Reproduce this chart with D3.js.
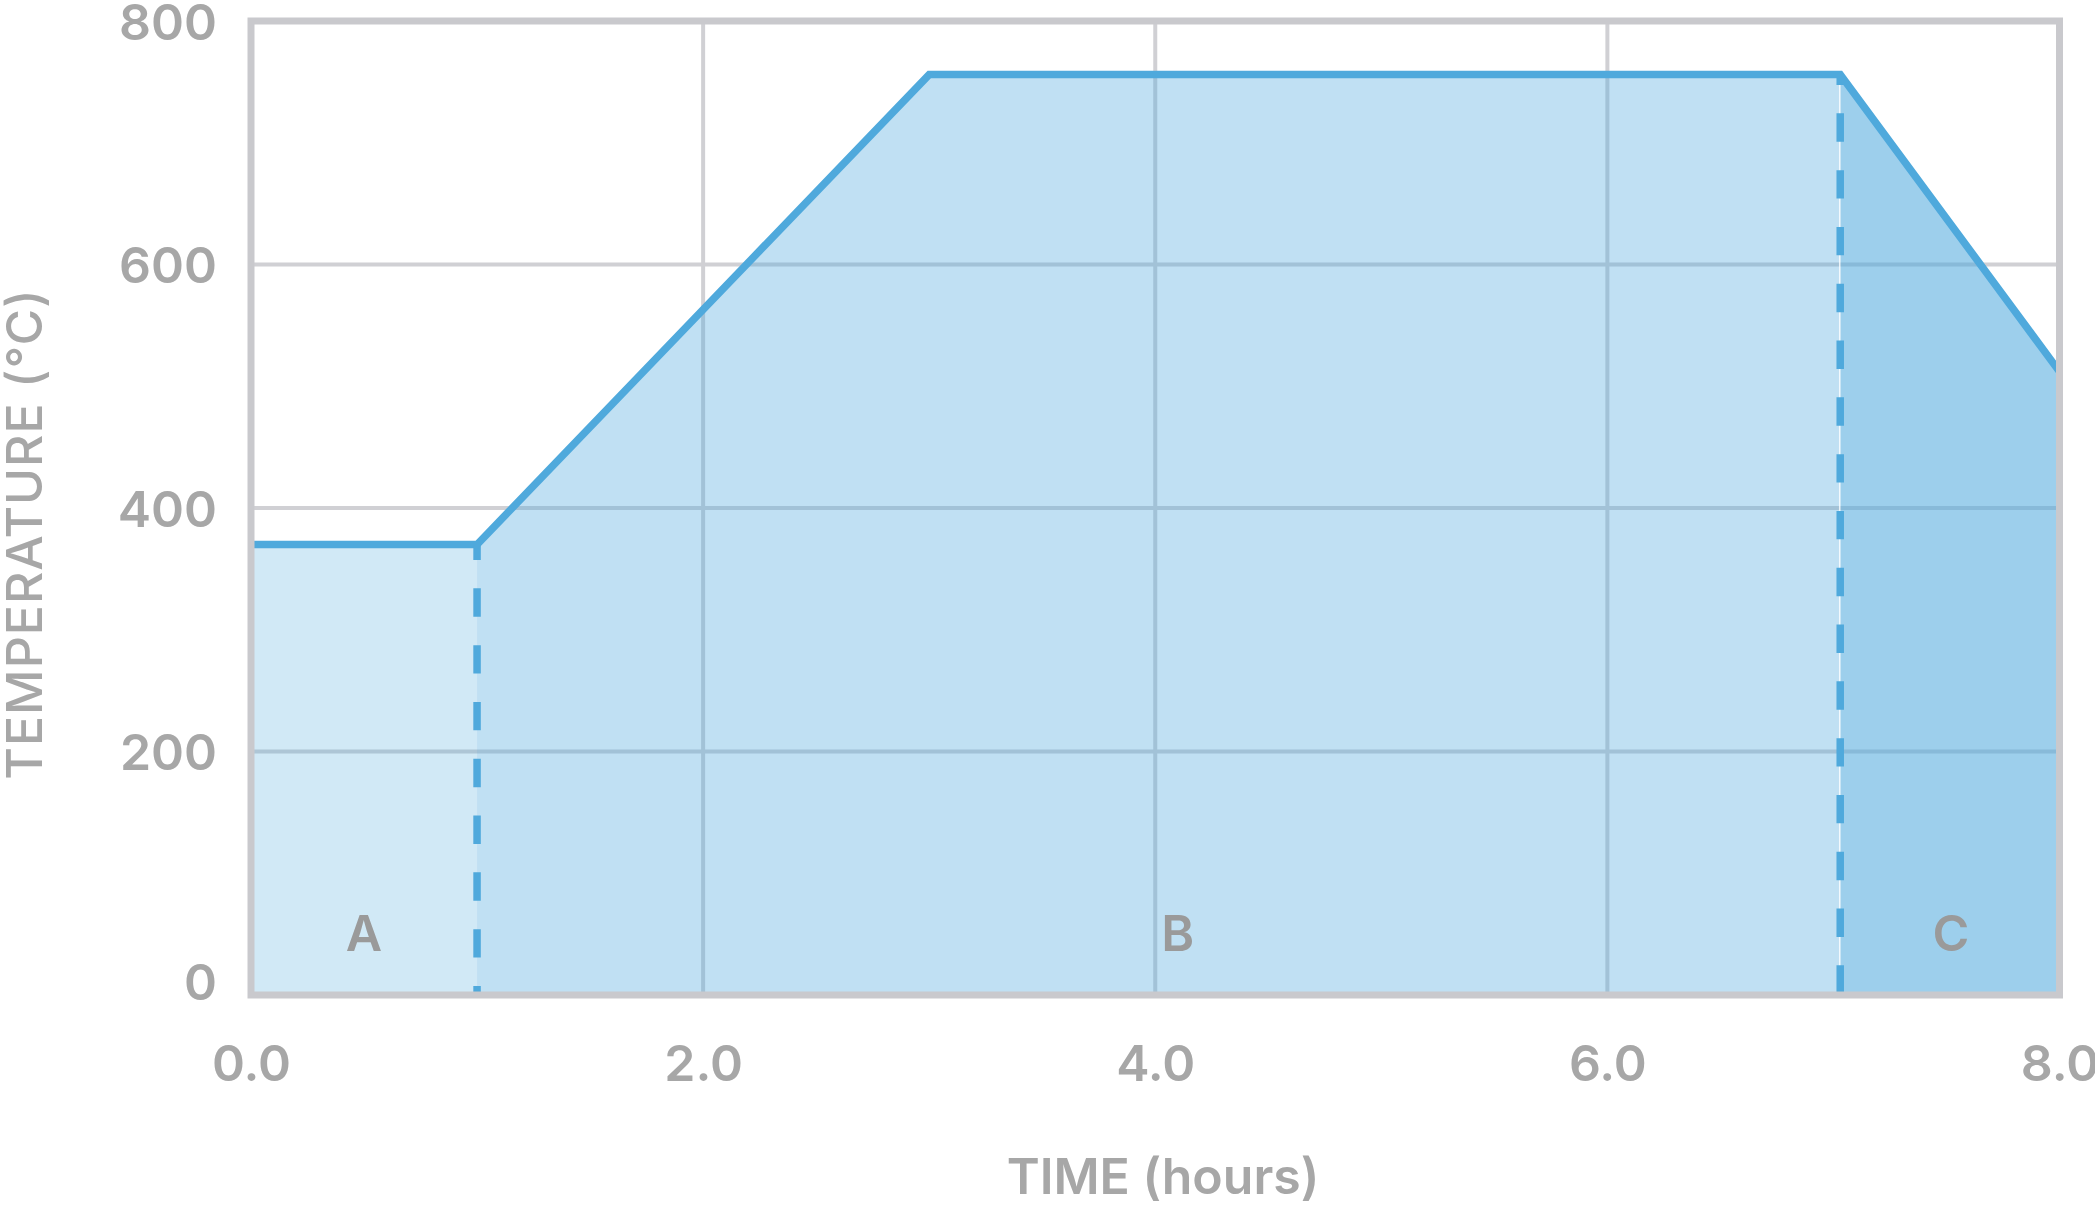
<!DOCTYPE html>
<html>
<head>
<meta charset="utf-8">
<script src="https://cdn.jsdelivr.net/npm/d3@7"></script>
<style>
  html, body { margin: 0; padding: 0; background: #ffffff; overflow: hidden; }
  svg { display: block; }
  text { font-family: Inter, "Open Sans", sans-serif; }
</style>
</head>
<body>
<svg id="chart" width="2095" height="1206"></svg>
<script>
// ---- data ----
const timeHours = [0, 1.0, 3.0, 7.03, 8.0];
const temperatureC = [370, 370, 756, 756, 512];

const zoneLabels = ["A", "B", "C"];
const zoneStart = [0, 1.0, 7.03];
const zoneEnd = [1.0, 7.03, 8.0];
const zoneLabelX = [0.5, 4.1, 7.52];
const zoneLabelY = [36, 36, 36];

const xTickValues = [0, 2, 4, 6, 8];
const yTickValues = [0, 200, 400, 600, 800];
const xGridValues = [2, 4, 6];
const yGridValues = [200, 400, 600];
const boundaryTimes = [1.0, 7.03];

const xTitle = "TIME (hours)";
const yTitle = "TEMPERATURE (°C)";

// ---- layout / style ----
const W = 2095, H = 1206;
const plot = { left: 251, right: 2059.5, top: 21, bottom: 995 };
const lineColor = "#4fa9dc";
const zoneOpacity = [0.26, 0.355, 0.555];
const frameColor = "#c9c9cd";
const gridColor = "#d0d0d4";
const textColor = "#a7a7a7";

const svg = d3.select("#chart");

const x = d3.scaleLinear().domain([0, 8]).range([plot.left, plot.right]);
const y = d3.scaleLinear().domain([0, 800]).range([plot.bottom, plot.top]);

const points = timeHours.map((t, i) => ({ t, v: temperatureC[i] }));

// grid (under the translucent fills)
svg.append("g").selectAll("line").data(xGridValues).join("line")
  .attr("x1", d => x(d)).attr("x2", d => x(d))
  .attr("y1", y(0)).attr("y2", y(800))
  .attr("stroke", gridColor).attr("stroke-width", 4);
svg.append("g").selectAll("line").data(yGridValues).join("line")
  .attr("x1", x(0)).attr("x2", x(8))
  .attr("y1", d => y(d)).attr("y2", d => y(d))
  .attr("stroke", gridColor).attr("stroke-width", 4);

// zone fills
const area = d3.area().x(d => x(d.t)).y0(y(0)).y1(d => y(d.v));
zoneLabels.forEach((lab, i) => {
  const seg = points.filter(p => p.t >= zoneStart[i] - 1e-9 && p.t <= zoneEnd[i] + 1e-9);
  svg.append("path").datum(seg).attr("d", area)
    .attr("fill", lineColor).attr("fill-opacity", zoneOpacity[i]);
});

// thin light seam at the B/C boundary
svg.append("line")
  .attr("x1", x(boundaryTimes[1]) - 0.5).attr("x2", x(boundaryTimes[1]) - 0.5)
  .attr("y1", y(0)).attr("y2", y(temperatureC[3]))
  .attr("stroke", "#ffffff").attr("stroke-opacity", 0.8).attr("stroke-width", 1.5);

// dashed boundaries
const dashOffsets = [13, 18];
boundaryTimes.forEach((bt, i) => {
  const idx = timeHours.indexOf(bt);
  svg.append("line")
    .attr("x1", x(bt)).attr("x2", x(bt))
    .attr("y1", y(temperatureC[idx])).attr("y2", y(0))
    .attr("stroke", lineColor).attr("stroke-width", 7.5)
    .attr("stroke-dasharray", "28.4 28.4")
    .attr("stroke-dashoffset", dashOffsets[i]);
});

// main line
const line = d3.line().x(d => x(d.t)).y(d => y(d.v));
svg.append("path").datum(points).attr("d", line)
  .attr("fill", "none").attr("stroke", lineColor).attr("stroke-width", 7.5)
  .attr("stroke-linejoin", "miter");

// frame
svg.append("rect")
  .attr("x", x(0)).attr("y", y(800))
  .attr("width", x(8) - x(0)).attr("height", y(0) - y(800))
  .attr("fill", "none").attr("stroke", frameColor).attr("stroke-width", 7);

// zone labels
svg.append("g").selectAll("text").data(zoneLabels).join("text")
  .attr("x", (d, i) => x(zoneLabelX[i]))
  .attr("y", (d, i) => y(zoneLabelY[i]))
  .attr("text-anchor", "middle")
  .attr("font-size", 50).attr("font-weight", 600)
  .attr("fill", "#9a9a9a")
  .text(d => d);

// axes
const yAxis = d3.axisLeft(y).tickValues(yTickValues).tickSize(0).tickPadding(34).tickFormat(d3.format("d"));
const gy = svg.append("g").attr("transform", `translate(${plot.left},0)`).call(yAxis);
gy.select(".domain").remove();
gy.selectAll("text")
  .attr("font-size", 50).attr("font-weight", 600)
  .attr("font-family", "Inter, sans-serif")
  .attr("fill", textColor)
  .attr("dy", d => d === 0 ? "0.08em" : "0.36em");

const xAxis = d3.axisBottom(x).tickValues(xTickValues).tickSize(0).tickPadding(50).tickFormat(d3.format(".1f"));
const gx = svg.append("g").attr("transform", `translate(0,${plot.bottom})`).call(xAxis);
gx.select(".domain").remove();
gx.selectAll("text")
  .attr("font-size", 50).attr("font-weight", 600)
  .attr("font-family", "Inter, sans-serif")
  .attr("fill", textColor);

// titles
svg.append("text")
  .attr("x", 1163).attr("y", 1194)
  .attr("text-anchor", "middle")
  .attr("font-size", 50).attr("font-weight", 600)
  .attr("fill", textColor)
  .text(xTitle);

svg.append("text")
  .attr("transform", "translate(42,534) rotate(-90)")
  .attr("text-anchor", "middle")
  .attr("font-size", 50).attr("font-weight", 500)
  .attr("letter-spacing", 1)
  .attr("fill", textColor)
  .text(yTitle);
</script>
</body>
</html>
